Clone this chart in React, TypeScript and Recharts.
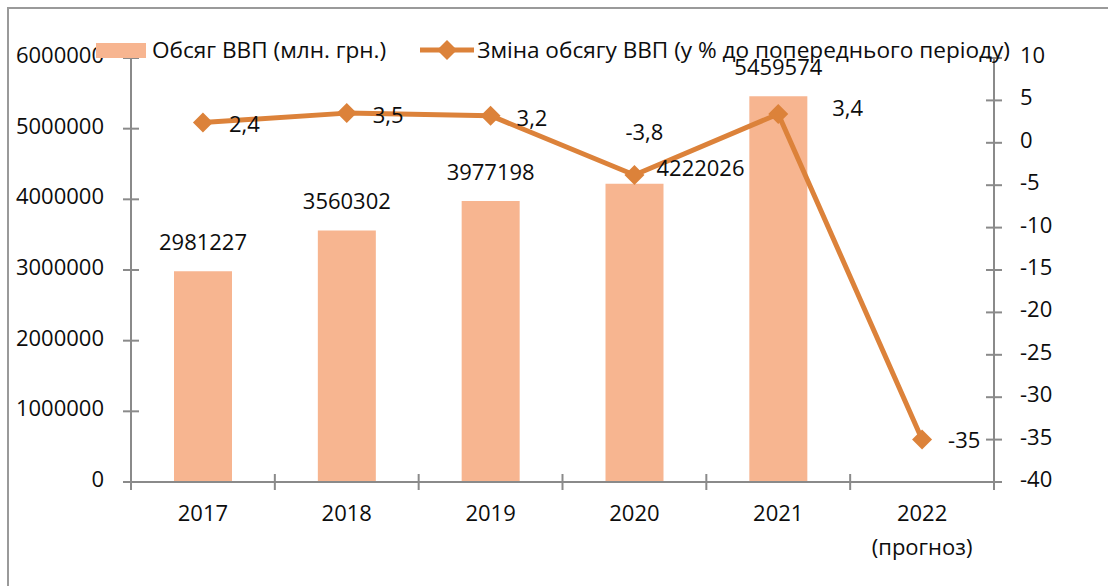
import React from 'react';
import { ComposedChart, Bar, Line, XAxis, YAxis, LabelList } from 'recharts';

const years = ['2017', '2018', '2019', '2020', '2021', '2022'];
const yearNotes = ['', '', '', '', '', '(прогноз)'];
const gdpVolume = [2981227, 3560302, 3977198, 4222026, 5459574, null];
const gdpChange = [2.4, 3.5, 3.2, -3.8, 3.4, -35];
const leftTicks = [0, 1000000, 2000000, 3000000, 4000000, 5000000, 6000000];
const rightTicks = [-40, -35, -30, -25, -20, -15, -10, -5, 0, 5, 10];

const BAR_NAME = 'Обсяг ВВП (млн. грн.)';
const LINE_NAME = 'Зміна обсягу ВВП (у % до попереднього періоду)';

const data = years.map((year, i) => ({
  year,
  volume: gdpVolume[i],
  change: gdpChange[i],
}));

const FONT = "'Open Sans', 'Noto Sans', sans-serif";
const BAR_COLOR = '#F7B590';
const LINE_COLOR = '#DC823A';
const AXIS_COLOR = '#8A8A8A';
const TEXT_COLOR = '#0D0D0D';

const W = 1108;
const H = 586;
const LEFT_W = 131;
const RIGHT_W = 114;
const BAND = (W - LEFT_W - RIGHT_W) / years.length;

// per-point label nudges, like the hand-moved labels in the original sheet
const BAR_LABEL_SHIFT: [number, number][] = [[0, 0], [0, 0], [0, 0], [66, 13], [0, 0], [0, 0]];
const LINE_LABEL_POS: [number, number, 'start' | 'middle'][] = [
  [26, 10, 'start'],
  [26, 10, 'start'],
  [26, 10, 'start'],
  [10, -35, 'middle'],
  [54, 2, 'start'],
  [26, 8, 'start'],
];

const fmtPct = (v: number) => String(v).replace('.', ',');

function LeftTick({ x, y, payload }: any) {
  return (
    <g>
      <line x1={x - 8} x2={x + 8} y1={y} y2={y} stroke={AXIS_COLOR} strokeWidth={2} />
      <text x={x - 27} y={y + 5} textAnchor="end" fontSize={22} fill={TEXT_COLOR} fontFamily={FONT}>
        {payload.value}
      </text>
    </g>
  );
}

function RightTick({ x, y, payload }: any) {
  return (
    <g>
      <line x1={x - 8} x2={x + 8} y1={y} y2={y} stroke={AXIS_COLOR} strokeWidth={2} />
      <text x={x + 26} y={y + 5} textAnchor="start" fontSize={22} fill={TEXT_COLOR} fontFamily={FONT}>
        {payload.value}
      </text>
    </g>
  );
}

function XTick({ x, y, payload, index }: any) {
  const half = BAND / 2;
  const note = yearNotes[index];
  return (
    <g>
      <line x1={x - half} x2={x - half} y1={y - 8} y2={y + 8} stroke={AXIS_COLOR} strokeWidth={2} />
      {index === years.length - 1 && (
        <line x1={x + half} x2={x + half} y1={y - 8} y2={y + 8} stroke={AXIS_COLOR} strokeWidth={2} />
      )}
      <text x={x} y={y + 39} textAnchor="middle" fontSize={22} fill={TEXT_COLOR} fontFamily={FONT}>
        {payload.value}
      </text>
      {note && (
        <text x={x} y={y + 73} textAnchor="middle" fontSize={22} fill={TEXT_COLOR} fontFamily={FONT}>
          {note}
        </text>
      )}
    </g>
  );
}

function BarLabel({ x, y, width, value, index }: any) {
  if (value == null) return null;
  const [dx, dy] = BAR_LABEL_SHIFT[index] || [0, 0];
  return (
    <text
      x={Number(x) + Number(width) / 2 + dx}
      y={Number(y) - 21 + dy}
      textAnchor="middle"
      fontSize={22}
      fill={TEXT_COLOR}
      fontFamily={FONT}
    >
      {value}
    </text>
  );
}

function LineLabel({ x, y, value, index }: any) {
  const [dx, dy, anchor] = LINE_LABEL_POS[index] || [26, 10, 'start'];
  return (
    <text
      x={Number(x) + dx}
      y={Number(y) + dy}
      textAnchor={anchor}
      fontSize={22}
      fill={TEXT_COLOR}
      fontFamily={FONT}
    >
      {fmtPct(value)}
    </text>
  );
}

function DiamondDot({ cx, cy, index }: any) {
  if (cx == null || cy == null) return null;
  const r = 10;
  return (
    <path
      key={`dot-${index}`}
      d={`M${cx},${cy - r} L${cx + r},${cy} L${cx},${cy + r} L${cx - r},${cy} Z`}
      fill={LINE_COLOR}
    />
  );
}

function ChartLegend() {
  return (
    <div
      style={{
        position: 'absolute',
        left: 96,
        top: 34,
        display: 'flex',
        alignItems: 'center',
        fontFamily: FONT,
        fontSize: 22.6,
        color: TEXT_COLOR,
        whiteSpace: 'nowrap',
        lineHeight: '32px',
      }}
    >
      <span style={{ display: 'inline-block', width: 50, height: 15, background: BAR_COLOR, marginRight: 6 }} />
      <span>{BAR_NAME}</span>
      <svg width={56} height={24} style={{ marginLeft: 33, marginRight: 2 }}>
        <line x1={1} x2={55} y1={12} y2={12} stroke={LINE_COLOR} strokeWidth={5} />
        <path d="M28,2 L38,12 L28,22 L18,12 Z" fill={LINE_COLOR} />
      </svg>
      <span>{LINE_NAME}</span>
    </div>
  );
}

export default function App() {
  return (
    <div
      style={{
        position: 'absolute',
        left: 0,
        top: 0,
        width: W,
        height: H,
        overflow: 'hidden',
        background: '#fff',
      }}
    >
      <div
        style={{
          position: 'absolute',
          left: 7,
          top: 7,
          width: W + 20,
          height: H + 20,
          border: '2px solid #9A9A9A',
        }}
      />
      <div style={{ position: 'absolute', left: 0, top: 0 }}>
        <ComposedChart
          width={W}
          height={H}
          data={data}
          barSize={58}
          margin={{ top: 58, right: 0, bottom: 0, left: 0 }}
        >
          <XAxis
            dataKey="year"
            height={104}
            interval={0}
            stroke={AXIS_COLOR}
            strokeWidth={2}
            tickLine={false}
            tickSize={0}
            tickMargin={0}
            tick={XTick}
          />
          <YAxis
            yAxisId="left"
            width={LEFT_W}
            domain={[0, 6000000]}
            ticks={leftTicks}
            interval={0}
            stroke={AXIS_COLOR}
            strokeWidth={2}
            tickLine={false}
            tickSize={0}
            tickMargin={0}
            tick={LeftTick}
          />
          <YAxis
            yAxisId="right"
            orientation="right"
            width={RIGHT_W}
            domain={[-40, 10]}
            ticks={rightTicks}
            interval={0}
            stroke={AXIS_COLOR}
            strokeWidth={2}
            tickLine={false}
            tickSize={0}
            tickMargin={0}
            tick={RightTick}
          />
          <Bar yAxisId="left" dataKey="volume" name={BAR_NAME} fill={BAR_COLOR} isAnimationActive={false}>
            <LabelList dataKey="volume" content={BarLabel} />
          </Bar>
          <Line
            yAxisId="right"
            dataKey="change"
            name={LINE_NAME}
            stroke={LINE_COLOR}
            strokeWidth={5}
            strokeLinejoin="round"
            dot={DiamondDot}
            activeDot={false}
            isAnimationActive={false}
          >
            <LabelList dataKey="change" content={LineLabel} />
          </Line>
        </ComposedChart>
      </div>
      <ChartLegend />
    </div>
  );
}
